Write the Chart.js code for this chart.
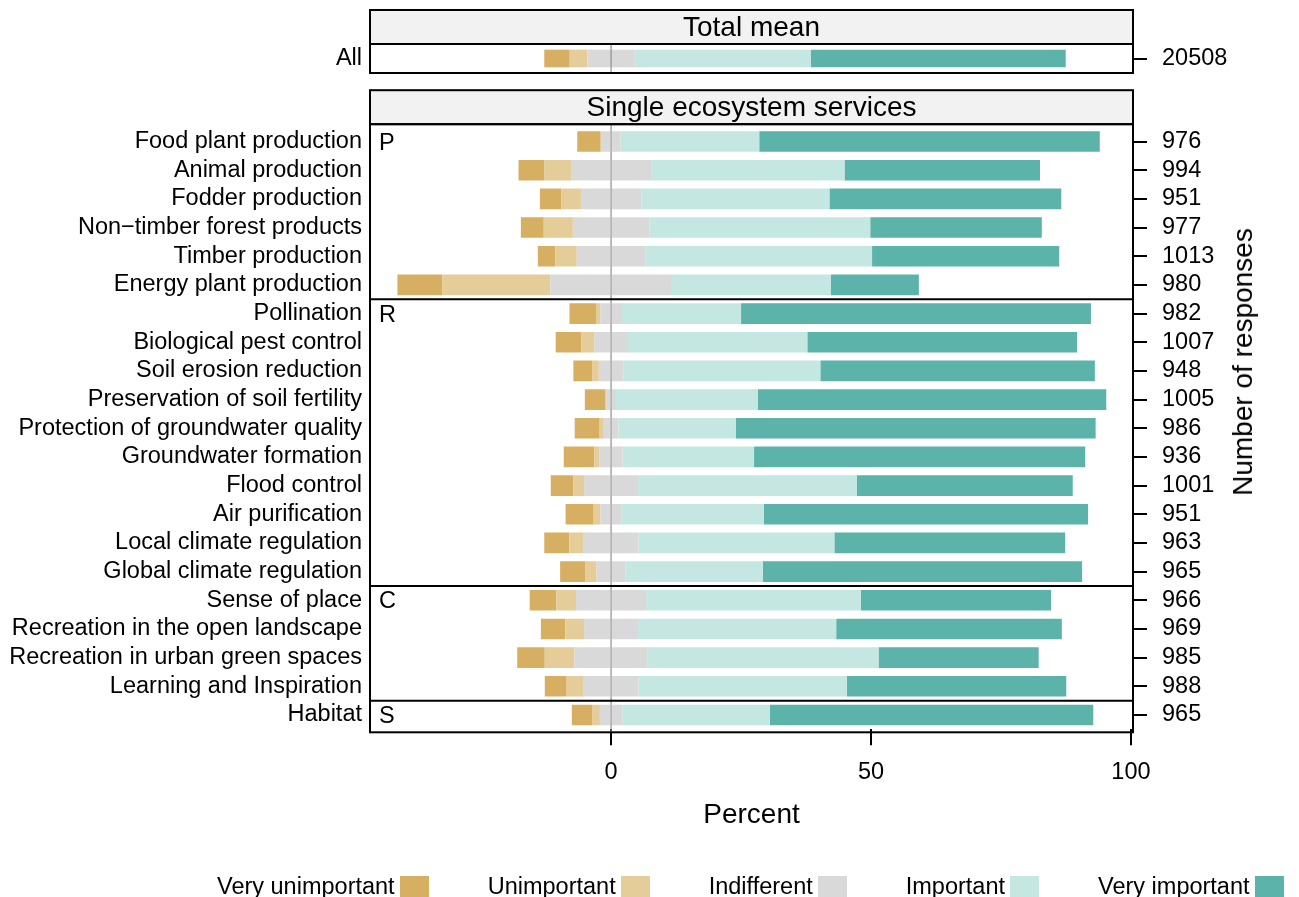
<!DOCTYPE html>
<html><head><meta charset="utf-8">
<script src="https://cdn.jsdelivr.net/npm/chart.js@4.4.0/dist/chart.umd.min.js"></script>
<style>
html,body{margin:0;padding:0;background:#fff;}
#wrap{position:relative;width:1299px;height:897px;overflow:hidden;font-family:'Liberation Sans',Arial,Helvetica,sans-serif;color:#000;}
canvas{position:absolute;left:0;top:0;}
.strip{position:absolute;left:370px;width:763px;height:34px;line-height:34px;text-align:center;font-size:28px;}
.letter{position:absolute;left:379px;font-size:23.5px;line-height:24px;transform:translateY(-50%);}
#ytitle{position:absolute;left:1243px;top:362px;font-size:28px;white-space:nowrap;transform:translate(-50%,-50%) rotate(-90deg);}
#legend{position:absolute;left:217px;top:873px;display:flex;gap:59px;align-items:center;font-size:23.5px;}
.li{display:flex;align-items:center;white-space:nowrap;}
.sw{display:inline-block;width:29px;height:22px;margin-left:5px;}
</style></head>
<body>
<div id="wrap">
<canvas id="cTop" width="1299" height="897"></canvas>
<canvas id="cMain" width="1299" height="897"></canvas>
<div class="strip" style="top:10px">Total mean</div>
<div class="strip" style="top:90px">Single ecosystem services</div>
<div id="ytitle">Number of responses</div>
<div id="legend"></div>
</div>
<script>
// ---------- data ----------
const totalCategories = ['All'];
const totalResponses = [20508];
const totalVeryUnimportant = [4.9];
const totalUnimportant = [3.4];
const totalIndifferent = [9.1];
const totalImportant = [33.9];
const totalVeryImportant = [49.0];

const categories = [
  'Food plant production','Animal production','Fodder production','Non\u2212timber forest products',
  'Timber production','Energy plant production',
  'Pollination','Biological pest control','Soil erosion reduction','Preservation of soil fertility',
  'Protection of groundwater quality','Groundwater formation','Flood control','Air purification',
  'Local climate regulation','Global climate regulation',
  'Sense of place','Recreation in the open landscape','Recreation in urban green spaces','Learning and Inspiration',
  'Habitat'
];
const responses = [976,994,951,977,1013,980, 982,1007,948,1005,986,936,1001,951,963,965, 966,969,985,988, 965];
const veryUnimportant = [4.5,5.0,4.1,4.4,3.4,8.6, 5.1,4.9,3.7,3.9,4.8,5.9,4.3,5.4,4.8,4.9, 5.1,4.7,5.3,4.2, 4.0];
const unimportant     = [0.2,5.1,3.8,5.6,4.1,20.8, 0.8,2.5,1.2,0.2,0.8,1.0,2.1,1.3,2.8,2.1, 3.8,3.6,5.7,3.3, 1.4];
const indifferent     = [3.6,15.4,11.6,14.7,13.2,23.4, 4.2,6.5,4.7,1.9,2.8,4.4,10.4,4.1,10.5,5.6, 13.5,10.4,14.1,10.5, 4.3];
const important       = [26.7,37.2,36.2,42.5,43.6,30.6, 22.9,34.5,37.9,27.3,22.6,25.3,42.1,27.3,37.7,26.4, 41.3,38.1,44.4,40.1, 28.4];
const veryImportant   = [65.5,37.6,44.6,33.0,36.0,16.9, 67.3,51.9,52.8,67.0,69.2,63.7,41.5,62.4,44.4,61.4, 36.6,43.4,30.8,42.2, 62.2];

const groupLetters = ['P','R','C','S'];
const groupSizes = [6,10,4,1];
const legendLabels = ['Very unimportant','Unimportant','Indifferent','Important','Very important'];
const xTickValues = [0,50,100];
const xMin = -46.37, xMax = 100.39;

// ---------- styles ----------
const COL = {vu:'#D7AF62', u:'#E4CD98', n:'#D9D9D9', imp:'#C4E7E1', vi:'#5BB3A9'};
const FONT = "'Liberation Sans', Arial, Helvetica, sans-serif";
const LABEL_SIZE = 23.5;
Chart.defaults.font.family = FONT;
Chart.defaults.color = '#000';

function buildDatasets(vu,u,n,imp,vi,bp){
  return [
    {label:'Indifferent', data:n.map(v=>-v/2), backgroundColor:COL.n},
    {label:'Unimportant', data:u.map(v=>-v), backgroundColor:COL.u},
    {label:'Very unimportant', data:vu.map(v=>-v), backgroundColor:COL.vu},
    {label:'Indifferent', data:n.map(v=>v/2), backgroundColor:COL.n},
    {label:'Important', data:imp, backgroundColor:COL.imp},
    {label:'Very important', data:vi, backgroundColor:COL.vi}
  ].map(d=>Object.assign(d,{stack:'s',borderWidth:0,barPercentage:bp,categoryPercentage:1}));
}

const panelPlugin = {
  id:'panel',
  afterDatasetsDraw(chart, args, opts){
    const {ctx, chartArea:a, scales} = chart;
    const top = a.top - opts.pad, bottom = a.bottom + opts.pad;
    ctx.save();
    // zero reference line
    const x0 = scales.x.getPixelForValue(0);
    ctx.strokeStyle = '#8f8f8f'; ctx.lineWidth = 1.2;
    ctx.beginPath(); ctx.moveTo(x0, top); ctx.lineTo(x0, bottom); ctx.stroke();
    // group dividers
    if (opts.groups){
      ctx.strokeStyle = '#000'; ctx.lineWidth = 2;
      let c = 0;
      for (let g=0; g<opts.groups.length-1; g++){
        c += opts.groups[g];
        const y = (scales.y.getPixelForValue(c-1) + scales.y.getPixelForValue(c))/2;
        ctx.beginPath(); ctx.moveTo(a.left, y); ctx.lineTo(a.right, y); ctx.stroke();
      }
    }
    // strip
    ctx.fillStyle = '#F2F2F2';
    ctx.fillRect(a.left, top-34, a.right-a.left, 34);
    ctx.strokeStyle = '#000'; ctx.lineWidth = 2;
    ctx.strokeRect(a.left, top-34, a.right-a.left, 34);
    // frame
    ctx.strokeRect(a.left, top, a.right-a.left, bottom-top);
    ctx.restore();
  }
};

function makeChart(id, labels, counts, ds, pad, showX, framePad, groups){
  return new Chart(document.getElementById(id), {
    type:'bar',
    data:{labels, datasets:ds},
    plugins:[panelPlugin],
    options:{
      indexAxis:'y', responsive:false, animation:false, devicePixelRatio:1,
      layout:{padding:pad},
      plugins:{legend:{display:false}, tooltip:{enabled:false}, panel:{pad:framePad, groups}},
      scales:{
        x:{type:'linear', stacked:true, min:xMin, max:xMax, display:showX,
           afterBuildTicks:s=>{s.ticks = xTickValues.map(v=>({value:v}));},
           afterFit:s=>{ s.height = showX ? 100 : 0; },
           grid:{display:true, drawOnChartArea:false, drawTicks:true, tickLength:16, color:'#000', lineWidth:2},
           border:{display:false},
           ticks:{font:{size:LABEL_SIZE}, padding:13, maxRotation:0, autoSkip:false, color:'#000'},
           title:{display:true, text:'Percent', font:{size:28}, padding:{top:0,bottom:-3}, color:'#000'}},
        y:{type:'category', stacked:true, position:'left', offset:true,
           afterFit:s=>{s.width = 370;},
           grid:{display:false, drawTicks:false}, border:{display:false},
           ticks:{font:{size:LABEL_SIZE}, padding:8, color:'#000', autoSkip:false}},
        yR:{type:'category', position:'right', offset:true, labels:counts.map(String),
           afterFit:s=>{s.width = 166;},
           grid:{display:true, drawOnChartArea:false, drawTicks:true, tickLength:14, offset:false, color:'#000', lineWidth:2},
           border:{display:false},
           ticks:{font:{size:LABEL_SIZE}, padding:15, color:'#000', autoSkip:false}}
      }
    }
  });
}

makeChart('cTop', totalCategories, totalResponses,
  buildDatasets(totalVeryUnimportant,totalUnimportant,totalIndifferent,totalImportant,totalVeryImportant,0.61),
  {top:44, bottom:824, left:0, right:0}, false, 0, null);

const main = makeChart('cMain', categories, responses,
  buildDatasets(veryUnimportant,unimportant,indifferent,important,veryImportant,0.72),
  {top:127.2, bottom:67.7, left:0, right:0}, true, 3, groupSizes);

// group letters positioned from the y scale
const wrap = document.getElementById('wrap');
let start = 0;
groupLetters.forEach((L,i)=>{
  const d = document.createElement('div');
  d.className = 'letter'; d.textContent = L;
  d.style.top = main.scales.y.getPixelForValue(start) + 'px';
  wrap.appendChild(d);
  start += groupSizes[i];
});

// legend
const lg = document.getElementById('legend');
const legendCols = [COL.vu, COL.u, COL.n, COL.imp, COL.vi];
legendLabels.forEach((t,i)=>{
  const it = document.createElement('div'); it.className='li';
  const sp = document.createElement('span'); sp.textContent = t;
  const sw = document.createElement('span'); sw.className='sw'; sw.style.background = legendCols[i];
  it.appendChild(sp); it.appendChild(sw); lg.appendChild(it);
});
</script>
</body></html>
